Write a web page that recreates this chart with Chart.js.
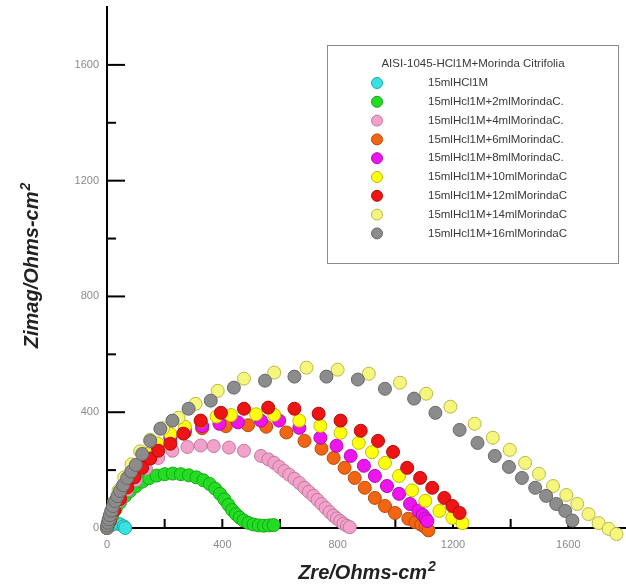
<!DOCTYPE html>
<html>
<head>
<meta charset="utf-8">
<script src="https://cdn.jsdelivr.net/npm/chart.js@4.4.1/dist/chart.umd.min.js"></script>
<style>
  html, body { margin: 0; padding: 0; background: #fff; }
  canvas { display: block; }
</style>
</head>
<body>
<canvas id="chart--nyquist" width="626" height="586"></canvas>
<script>
"use strict";
(() => {
    const legendTitle = 'AISI-1045-HCl1M+Morinda Citrifolia';
    const seriesLabels = [
        '15mlHCl1M',
        '15mlHcl1M+2mlMorindaC.',
        '15mlHcl1M+4mlMorindaC.',
        '15mlHcl1M+6mlMorindaC.',
        '15mlHcl1M+8mlMorindaC.',
        '15mlHcl1M+10mlMorindaC',
        '15mlHcl1M+12mlMorindaC',
        '15mlHcl1M+14mlMorindaC',
        '15mlHcl1M+16mlMorindaC'
    ];
    const fillColors = ['#38e2e2', '#22dd22', '#f2a2ca', '#f26512', '#ee14ee', '#ffff10', '#ee1414', '#f6f67e', '#8c8c8c'];
    const borderColors = ['#1aa8a8', '#17a817', '#c0789c', '#b84a08', '#b00cb0', '#bcbc00', '#b00c0c', '#b8b848', '#686868'];
    const xTickValues = [0, 400, 800, 1200, 1600];
    const yTickValues = [0, 400, 800, 1200, 1600];

    // [Zre, Zimag] pairs
    const hcl1M = [[0, 0], [15, 10], [30, 15], [45, 13], [58, 6], [63, 0]];
    const morinda2 = [[0, 0], [8, 20], [18, 42], [30, 65], [45, 88], [62, 110], [80, 128], [100, 145], [122, 160], [146, 172], [172, 181], [200, 186], [228, 188], [256, 186], [284, 182], [310, 175], [334, 165], [356, 152], [375, 136], [392, 118], [407, 99], [421, 80], [434, 62], [447, 48], [460, 36], [474, 26], [490, 18], [508, 12], [526, 9], [544, 8], [562, 9], [578, 10]];
    const morinda4 = [[0, 0], [10, 28], [25, 60], [45, 95], [70, 130], [100, 165], [135, 205], [178, 242], [227, 267], [279, 280], [325, 285], [370, 283], [423, 278], [475, 267], [534, 249], [560, 237], [580, 225], [598, 211], [615, 197], [632, 184], [650, 170], [668, 155], [685, 139], [700, 125], [716, 111], [730, 97], [744, 83], [758, 69], [772, 55], [785, 43], [797, 33], [809, 24], [820, 15], [832, 8], [842, 3]];
    const morinda6 = [[0, 0], [10, 30], [25, 70], [45, 115], [70, 160], [100, 205], [135, 245], [175, 280], [220, 310], [270, 330], [330, 345], [412, 352], [489, 355], [552, 350], [622, 330], [685, 301], [744, 274], [786, 242], [824, 208], [859, 173], [894, 139], [929, 104], [964, 76], [999, 52], [1045, 32], [1070, 20], [1090, 11], [1105, 2], [1115, -8]];
    const morinda8 = [[0, 0], [10, 32], [25, 72], [45, 118], [70, 165], [100, 210], [135, 250], [175, 285], [220, 315], [270, 337], [330, 352], [390, 360], [454, 365], [534, 371], [597, 371], [667, 346], [740, 312], [796, 284], [845, 249], [891, 215], [929, 180], [971, 145], [1013, 118], [1051, 83], [1080, 60], [1095, 45], [1105, 33], [1111, 24]];
    const morinda10 = [[0, 0], [10, 33], [25, 74], [45, 120], [70, 168], [100, 214], [135, 256], [175, 292], [220, 325], [270, 350], [325, 370], [380, 385], [430, 390], [517, 393], [580, 391], [667, 371], [740, 353], [810, 329], [873, 294], [919, 262], [964, 225], [1013, 180], [1058, 130], [1104, 94], [1153, 59], [1198, 35], [1233, 17]];
    const morinda12 = [[0, 0], [10, 25], [25, 60], [45, 100], [70, 140], [95, 175], [122, 208], [150, 240], [178, 267], [220, 291], [265, 326], [325, 371], [395, 398], [475, 412], [559, 416], [650, 412], [734, 395], [810, 371], [880, 336], [940, 301], [992, 263], [1041, 208], [1086, 173], [1128, 139], [1170, 104], [1198, 76], [1223, 52]];
    const morinda14 = [[0, 0], [6, 25], [14, 55], [25, 90], [40, 130], [60, 175], [85, 220], [115, 265], [150, 305], [195, 345], [248, 381], [307, 429], [384, 474], [475, 516], [580, 537], [692, 554], [800, 547], [908, 533], [1016, 502], [1107, 464], [1191, 419], [1275, 360], [1338, 312], [1397, 270], [1450, 225], [1498, 187], [1547, 145], [1593, 114], [1631, 83], [1670, 48], [1705, 17], [1740, -3], [1767, -21]];
    const morinda16 = [[0, 0], [1, 8], [3, 18], [6, 30], [10, 44], [15, 60], [21, 76], [28, 93], [36, 110], [45, 128], [56, 148], [70, 173], [84, 195], [100, 218], [122, 256], [150, 301], [185, 343], [227, 371], [283, 412], [360, 440], [440, 485], [548, 509], [650, 523], [761, 523], [870, 513], [964, 481], [1065, 447], [1139, 398], [1223, 339], [1285, 294], [1345, 249], [1394, 211], [1439, 173], [1485, 139], [1523, 111], [1558, 83], [1589, 59], [1614, 26]];

    const seriesData = [hcl1M, morinda2, morinda4, morinda6, morinda8, morinda10, morinda12, morinda14, morinda16];

    const datasets = seriesData.map((points, index) => ({
        label: seriesLabels[index],
        data: points.map(([x, y]) => ({ x, y })),
        backgroundColor: fillColors[index],
        borderColor: borderColors[index],
        borderWidth: 1,
        pointRadius: 6.5,
        order: seriesData.length - 1 - index,
        clip: false
    }));

    const axisFont = { family: 'Arial, "Liberation Sans", sans-serif', size: 11 };

    const innerTicksPlugin = {
        id: 'innerTicks',
        beforeDatasetsDraw(chart) {
            const { ctx, chartArea, scales } = chart;
            ctx.save();
            ctx.strokeStyle = '#000';
            ctx.lineWidth = 2;
            for (let value = 200; value < 1800; value += 200) {
                const yPixel = scales.y.getPixelForValue(value);
                const length = value % 400 === 0 ? 18 : 9;
                ctx.beginPath();
                ctx.moveTo(chartArea.left, yPixel);
                ctx.lineTo(chartArea.left + length, yPixel);
                ctx.stroke();
                const xPixel = scales.x.getPixelForValue(value);
                ctx.beginPath();
                ctx.moveTo(xPixel, chartArea.bottom);
                ctx.lineTo(xPixel, chartArea.bottom - 9);
                ctx.stroke();
            }
            ctx.restore();
        }
    };

    function drawSuperTitle(ctx, text, x, y) {
        ctx.font = 'italic bold 20px Arial, "Liberation Sans", sans-serif';
        const mainWidth = ctx.measureText(text).width;
        ctx.font = 'italic bold 14px Arial, "Liberation Sans", sans-serif';
        const supWidth = ctx.measureText('2').width;
        const startX = x - (mainWidth + supWidth) / 2;
        ctx.textAlign = 'left';
        ctx.textBaseline = 'alphabetic';
        ctx.font = 'italic bold 20px Arial, "Liberation Sans", sans-serif';
        ctx.fillText(text, startX, y);
        ctx.font = 'italic bold 14px Arial, "Liberation Sans", sans-serif';
        ctx.fillText('2', startX + mainWidth + 1, y - 8);
    }

    const titlesAndLegendPlugin = {
        id: 'titlesAndLegend',
        afterDraw(chart) {
            const { ctx, chartArea } = chart;
            ctx.save();
            ctx.fillStyle = '#222';
            drawSuperTitle(ctx, 'Zre/Ohms-cm', (chartArea.left + chartArea.right) / 2, 579);
            ctx.save();
            ctx.translate(38, 266);
            ctx.rotate(-Math.PI / 2);
            drawSuperTitle(ctx, 'Zimag/Ohms-cm', 0, 0);
            ctx.restore();

            // legend box
            const box = { left: 327.5, top: 45.5, width: 291, height: 218 };
            ctx.fillStyle = '#fff';
            ctx.fillRect(box.left, box.top, box.width, box.height);
            ctx.strokeStyle = '#8a8a8a';
            ctx.lineWidth = 1;
            ctx.strokeRect(box.left, box.top, box.width, box.height);
            ctx.fillStyle = '#3a3a3a';
            ctx.font = '11.5px Arial, "Liberation Sans", sans-serif';
            ctx.textAlign = 'center';
            ctx.textBaseline = 'middle';
            ctx.fillText(legendTitle, box.left + box.width / 2, 64);
            ctx.textAlign = 'left';
            seriesLabels.forEach((label, index) => {
                const rowY = 83 + index * 18.8;
                ctx.beginPath();
                ctx.arc(377, rowY, 5.5, 0, Math.PI * 2);
                ctx.fillStyle = fillColors[index];
                ctx.fill();
                ctx.strokeStyle = borderColors[index];
                ctx.stroke();
                ctx.fillStyle = '#3a3a3a';
                ctx.fillText(label, 428, rowY);
            });
            ctx.restore();
        }
    };

    new Chart(document.querySelector('#chart--nyquist'), {
        type: 'scatter',
        data: { datasets },
        options: {
            responsive: false,
            animation: false,
            layout: { autoPadding: false, padding: { top: 7, right: 0, left: 0, bottom: 0 } },
            plugins: {
                legend: { display: false },
                tooltip: { enabled: false }
            },
            scales: {
                x: {
                    type: 'linear',
                    min: 0,
                    max: 1800,
                    afterFit: (scale) => {
                        scale.height = 58;
                        scale.paddingLeft = 0;
                        scale.paddingRight = 0;
                    },
                    afterBuildTicks: (scale) => { scale.ticks = xTickValues.map((value) => ({ value })); },
                    grid: { display: false, drawTicks: false },
                    border: { color: '#000', width: 2 },
                    ticks: { color: '#8a8a8a', font: axisFont, padding: 10, maxRotation: 0, callback: (value) => String(value) }
                },
                y: {
                    type: 'linear',
                    min: 0,
                    max: 1800,
                    afterFit: (scale) => {
                        scale.width = 107;
                        scale.paddingTop = 0;
                        scale.paddingBottom = 0;
                    },
                    afterBuildTicks: (scale) => { scale.ticks = yTickValues.map((value) => ({ value })); },
                    grid: { display: false, drawTicks: false },
                    border: { color: '#000', width: 2 },
                    ticks: { color: '#8a8a8a', font: axisFont, padding: 8, callback: (value) => String(value) }
                }
            }
        },
        plugins: [innerTicksPlugin, titlesAndLegendPlugin]
    });
})();
</script>
</body>
</html>
